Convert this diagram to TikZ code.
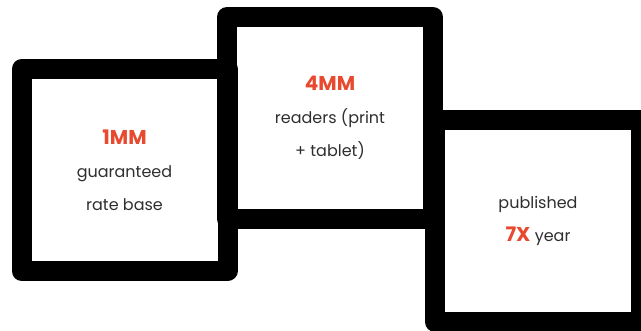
\documentclass[tikz,border=0pt]{standalone}
\usepackage{fontspec}
\setmainfont{Poppins}
\definecolor{statred}{HTML}{E84A2F}
\definecolor{statgrey}{HTML}{2E2E2E}
\newcommand{\statFigure}[1]{{\fontsize{20}{33}\selectfont\bfseries\color{statred}#1}}

\begin{document}
\begin{tikzpicture}[x=1pt,y=1pt,
    panel/.style={draw=black, line width=20pt, line join=round, inner sep=0pt,
      minimum width=206pt, minimum height=202pt, align=center, text=statgrey,
      font=\fontsize{16}{33}\selectfont}]
\useasboundingbox (0,0) rectangle (641,330);
% three stat panels, left to right
\node[panel] (ratebase) at (124.5,160) {\statFigure{1MM}\\guaranteed\\rate base};
\node[panel] (readers)  at (330,212)   {\statFigure{4MM}\\readers (print\\+ tablet)};
\node[panel] (issues)   at (538,109)   {published\\\statFigure{7X} year};
\end{tikzpicture}
\end{document}
